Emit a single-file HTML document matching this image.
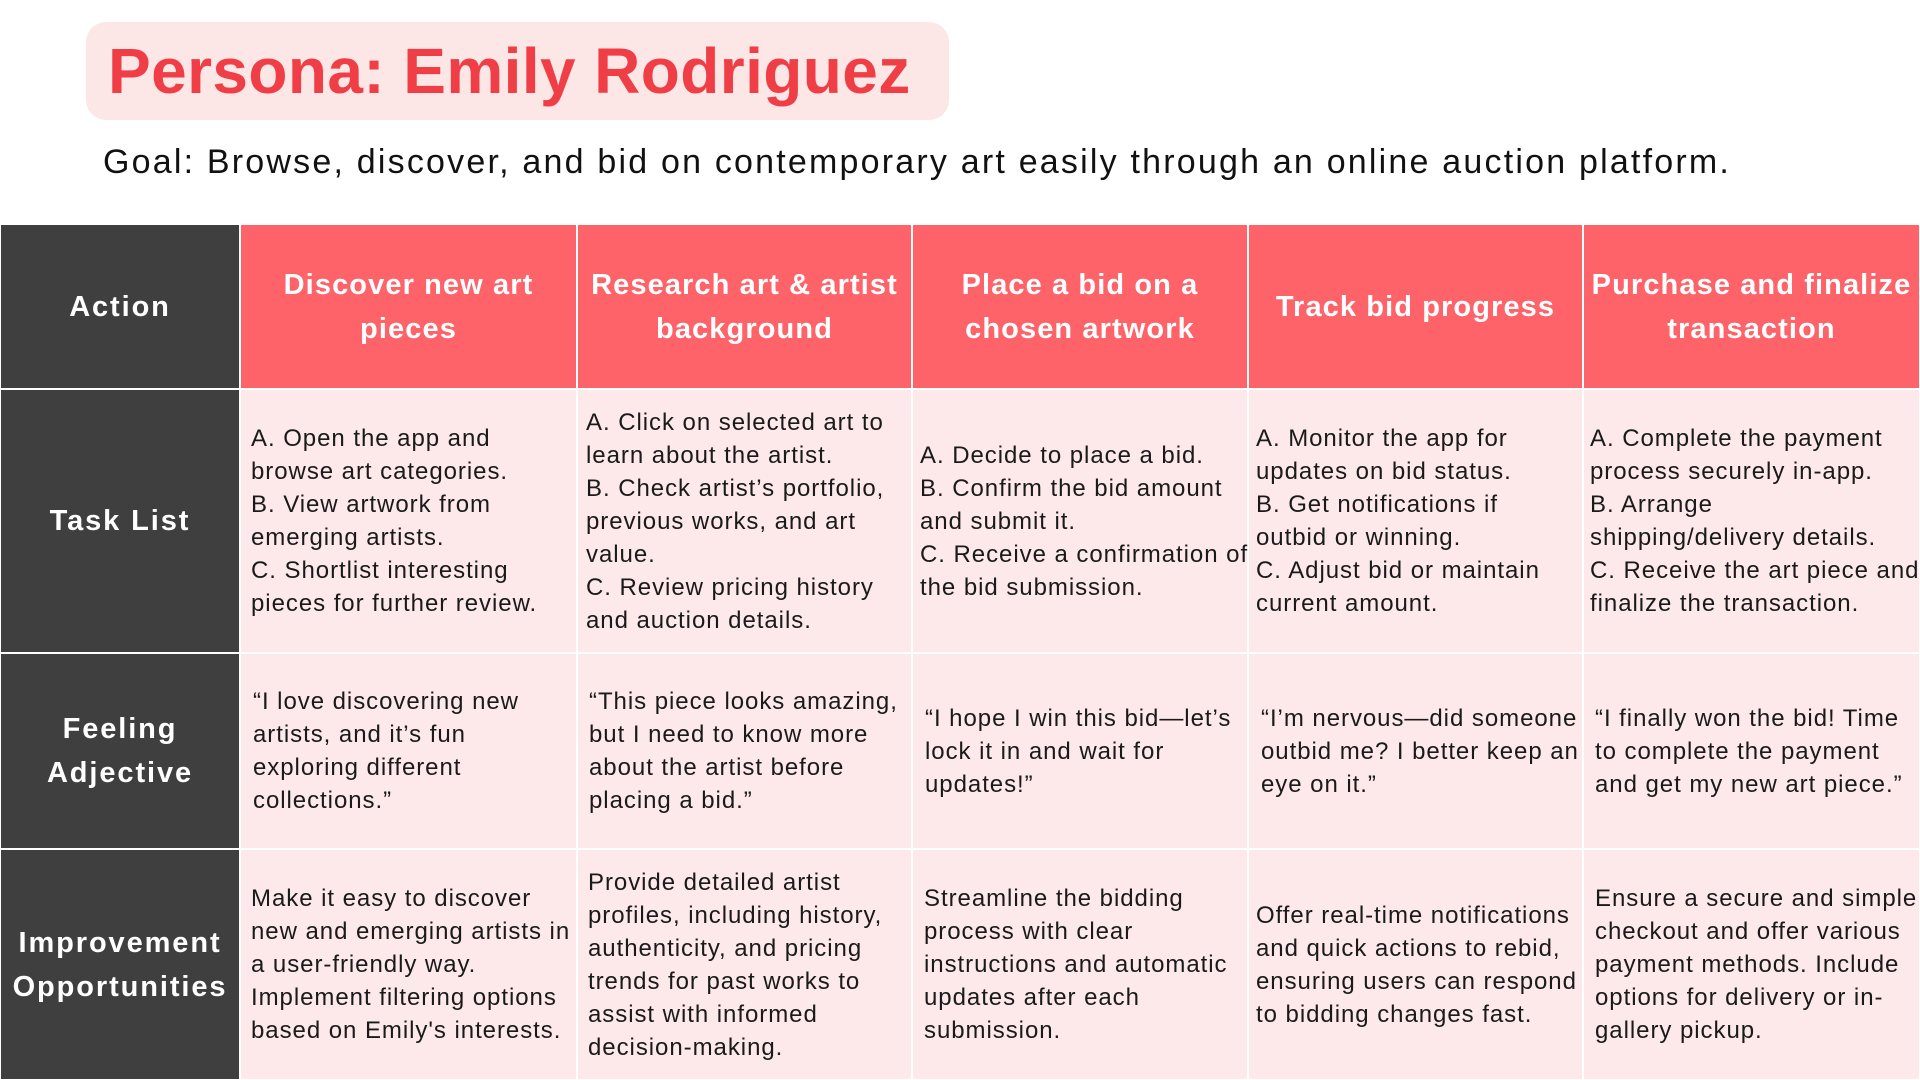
<!DOCTYPE html>
<html><head><meta charset="utf-8"><style>
*{box-sizing:border-box;margin:0;padding:0}
body{width:1920px;height:1080px;background:#fff;font-family:"Liberation Sans",sans-serif;position:relative;overflow:hidden}
#tbox{position:absolute;left:86px;top:22px;width:863px;height:98px;background:#fde6e6;border-radius:20px}
#title{position:absolute;left:108px;top:26px;font-size:64px;font-weight:bold;color:#ef3e45;letter-spacing:0.4px;line-height:90px}
#goal{position:absolute;left:103px;top:140px;font-size:34px;color:#111;line-height:44px;letter-spacing:2.2px}
.c{position:absolute;display:flex;align-items:center;border:1px solid #fff}
.lab{background:#3f3f3f;color:#fff;font-weight:bold;font-size:29px;justify-content:center;text-align:center;line-height:44px;letter-spacing:1.9px;white-space:nowrap}
.hd{background:#fd6368;color:#fff;font-weight:bold;font-size:29px;justify-content:center;text-align:center;line-height:44px;letter-spacing:1.1px;white-space:nowrap}
.bd{background:#fde9ea;color:#1a1a1a;font-size:24px;line-height:33px;padding-left:10px;white-space:nowrap;letter-spacing:0.95px}
</style></head><body>
<div id="tbox"></div>
<div id="title">Persona: Emily Rodriguez</div>
<div id="goal">Goal: Browse, discover, and bid on contemporary art easily through an online auction platform.</div>

<div class="c lab" style="left:0;top:224px;width:240px;height:165px">Action</div>
<div class="c lab" style="left:0;top:389px;width:240px;height:264px">Task List</div>
<div class="c lab" style="left:0;top:653px;width:240px;height:196px">Feeling<br>Adjective</div>
<div class="c lab" style="left:0;top:849px;width:240px;height:231px">Improvement<br>Opportunities</div>

<div class="c hd" style="left:240px;top:224px;width:337px;height:165px">Discover new art<br>pieces</div>
<div class="c hd" style="left:577px;top:224px;width:335px;height:165px">Research art &amp; artist<br>background</div>
<div class="c hd" style="left:912px;top:224px;width:336px;height:165px">Place a bid on a<br>chosen artwork</div>
<div class="c hd" style="left:1248px;top:224px;width:335px;height:165px">Track bid progress</div>
<div class="c hd" style="left:1583px;top:224px;width:337px;height:165px">Purchase and finalize<br>transaction</div>

<div class="c bd" style="left:240px;top:389px;width:337px;height:264px"><div>A. Open the app and<br>browse art categories.<br>B. View artwork from<br>emerging artists.<br>C. Shortlist interesting<br>pieces for further review.</div></div>
<div class="c bd" style="left:577px;top:389px;width:335px;height:264px;padding-left:8px"><div>A. Click on selected art to<br>learn about the artist.<br>B. Check artist’s portfolio,<br>previous works, and art<br>value.<br>C. Review pricing history<br>and auction details.</div></div>
<div class="c bd" style="left:912px;top:389px;width:336px;height:264px;padding-left:7px"><div>A. Decide to place a bid.<br>B. Confirm the bid amount<br>and submit it.<br>C. Receive a confirmation of<br>the bid submission.</div></div>
<div class="c bd" style="left:1248px;top:389px;width:335px;height:264px;padding-left:7px"><div>A. Monitor the app for<br>updates on bid status.<br>B. Get notifications if<br>outbid or winning.<br>C. Adjust bid or maintain<br>current amount.</div></div>
<div class="c bd" style="left:1583px;top:389px;width:337px;height:264px;padding-left:6px"><div>A. Complete the payment<br>process securely in-app.<br>B. Arrange<br>shipping/delivery details.<br>C. Receive the art piece and<br>finalize the transaction.</div></div>

<div class="c bd" style="left:240px;top:653px;width:337px;height:196px;padding-left:12px"><div>“I love discovering new<br>artists, and it’s fun<br>exploring different<br>collections.”</div></div>
<div class="c bd" style="left:577px;top:653px;width:335px;height:196px;padding-left:11px"><div>“This piece looks amazing,<br>but I need to know more<br>about the artist before<br>placing a bid.”</div></div>
<div class="c bd" style="left:912px;top:653px;width:336px;height:196px;padding-left:12px"><div>“I hope I win this bid—let’s<br>lock it in and wait for<br>updates!”</div></div>
<div class="c bd" style="left:1248px;top:653px;width:335px;height:196px;padding-left:12px"><div>“I’m nervous—did someone<br>outbid me? I better keep an<br>eye on it.”</div></div>
<div class="c bd" style="left:1583px;top:653px;width:337px;height:196px;padding-left:11px"><div>“I finally won the bid! Time<br>to complete the payment<br>and get my new art piece.”</div></div>

<div class="c bd" style="left:240px;top:849px;width:337px;height:231px"><div>Make it easy to discover<br>new and emerging artists in<br>a user-friendly way.<br>Implement filtering options<br>based on Emily's interests.</div></div>
<div class="c bd" style="left:577px;top:849px;width:335px;height:231px;padding-left:10px"><div>Provide detailed artist<br>profiles, including history,<br>authenticity, and pricing<br>trends for past works to<br>assist with informed<br>decision-making.</div></div>
<div class="c bd" style="left:912px;top:849px;width:336px;height:231px;padding-left:11px"><div>Streamline the bidding<br>process with clear<br>instructions and automatic<br>updates after each<br>submission.</div></div>
<div class="c bd" style="left:1248px;top:849px;width:335px;height:231px;padding-left:7px"><div>Offer real-time notifications<br>and quick actions to rebid,<br>ensuring users can respond<br>to bidding changes fast.</div></div>
<div class="c bd" style="left:1583px;top:849px;width:337px;height:231px;padding-left:11px"><div>Ensure a secure and simple<br>checkout and offer various<br>payment methods. Include<br>options for delivery or in-<br>gallery pickup.</div></div>
</body></html>
